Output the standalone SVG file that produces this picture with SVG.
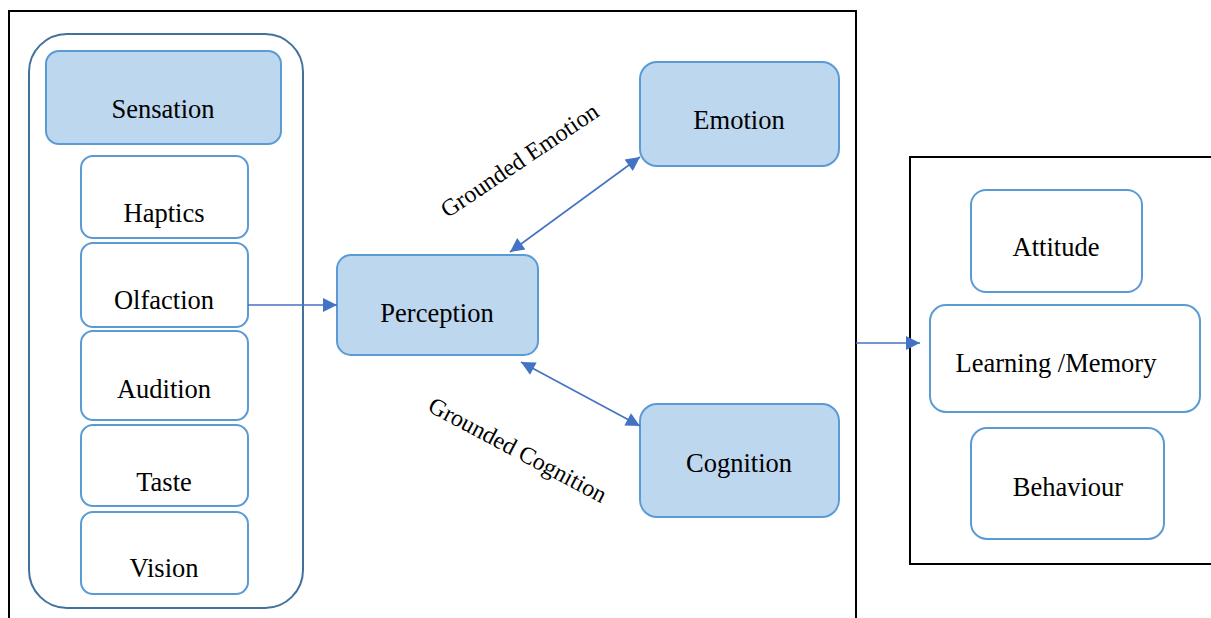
<svg xmlns="http://www.w3.org/2000/svg" width="1211" height="618" viewBox="0 0 1211 618">
  <style>
    .frame { fill: none; stroke: #000; stroke-width: 2; }
    .group { fill: #fff; stroke: #41719C; stroke-width: 2; }
    .filled { fill: #BDD7EE; stroke: #5B9BD5; stroke-width: 2; }
    .plain { fill: #fff; stroke: #5B9BD5; stroke-width: 2; }
    .label { font-family: "Liberation Serif", "Times New Roman", serif; font-size: 26.5px; fill: #000; text-anchor: middle; }
    .edge-label { font-family: "Liberation Serif", "Times New Roman", serif; font-size: 24px; fill: #000; text-anchor: middle; }
    .link { fill: none; stroke: #4472C4; stroke-width: 1.6; }
  </style>
  <defs>
    <marker id="head" viewBox="0 0 10 10" refX="10" refY="5" markerWidth="17" markerHeight="14" markerUnits="userSpaceOnUse" orient="auto-start-reverse">
      <path d="M0,0 L10,5 L0,10 z" fill="#4472C4"/>
    </marker>
  </defs>

  <!-- outer frames -->
  <g id="frames">
    <path class="frame" d="M9,618 V11 H856 V618"/>
    <path class="frame" d="M1211,157 H910 V564 H1211"/>
  </g>

  <!-- sensory modalities -->
  <g id="senses">
    <rect class="group" x="29" y="34" width="274" height="574" rx="38"/>
  </g>
  <g id="sensation">
    <rect class="filled" x="46" y="51" width="235" height="93" rx="13"/>
    <text class="label" x="163" y="118">Sensation</text>
  </g>
  <g id="haptics">
    <rect class="plain" x="81" y="156" width="167" height="82" rx="12"/>
    <text class="label" x="164" y="222">Haptics</text>
  </g>
  <g id="olfaction">
    <rect class="plain" x="81" y="243" width="167" height="84" rx="12"/>
    <text class="label" x="164" y="309">Olfaction</text>
  </g>
  <g id="audition">
    <rect class="plain" x="81" y="331" width="167" height="89" rx="12"/>
    <text class="label" x="164" y="398">Audition</text>
  </g>
  <g id="taste">
    <rect class="plain" x="81" y="425" width="167" height="81" rx="12"/>
    <text class="label" x="164" y="491">Taste</text>
  </g>
  <g id="vision">
    <rect class="plain" x="81" y="512" width="167" height="82" rx="12"/>
    <text class="label" x="164" y="577">Vision</text>
  </g>

  <!-- core processes -->
  <g id="perception">
    <rect class="filled" x="337" y="255" width="201" height="100" rx="14"/>
    <text class="label" x="437" y="322">Perception</text>
  </g>
  <g id="emotion">
    <rect class="filled" x="640" y="62" width="199" height="104" rx="17"/>
    <text class="label" x="739" y="129">Emotion</text>
  </g>
  <g id="cognition">
    <rect class="filled" x="640" y="404" width="199" height="113" rx="17"/>
    <text class="label" x="739" y="472">Cognition</text>
  </g>

  <!-- outcomes -->
  <g id="attitude">
    <rect class="plain" x="971" y="190" width="171" height="102" rx="15"/>
    <text class="label" x="1056" y="256">Attitude</text>
  </g>
  <g id="learning">
    <rect class="plain" x="930" y="305" width="270" height="107" rx="16"/>
    <text class="label" x="1056" y="372">Learning /Memory</text>
  </g>
  <g id="behaviour">
    <rect class="plain" x="971" y="428" width="193" height="111" rx="16"/>
    <text class="label" x="1068" y="496">Behaviour</text>
  </g>

  <!-- connectors -->
  <g id="connectors">
    <line class="link" x1="248" y1="305" x2="337" y2="305" marker-end="url(#head)"/>
    <line class="link" x1="510" y1="252" x2="640" y2="157" marker-start="url(#head)" marker-end="url(#head)"/>
    <line class="link" x1="521" y1="362" x2="640" y2="426" marker-start="url(#head)" marker-end="url(#head)"/>
    <line class="link" x1="856" y1="343" x2="920" y2="343" marker-end="url(#head)"/>
    <text class="edge-label" transform="translate(524,167) rotate(-34)">Grounded Emotion</text>
    <text class="edge-label" transform="translate(514,457) rotate(28)">Grounded Cognition</text>
  </g>
</svg>
